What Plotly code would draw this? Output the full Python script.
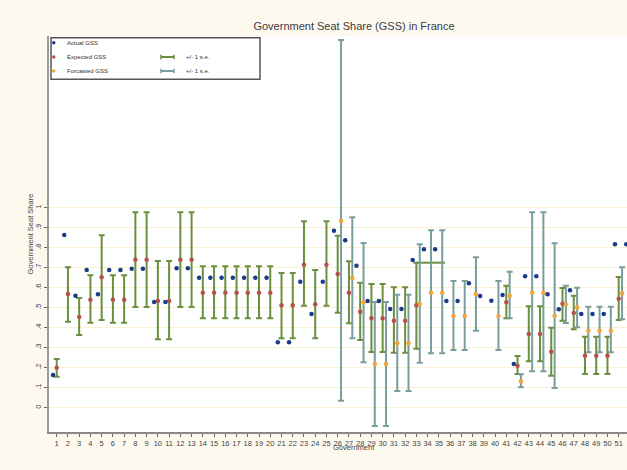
import plotly.graph_objects as go

# ---------------- data ----------------
gov = list(range(1, 53))
tick_labels = [str(g) for g in gov]

actual = [0.163, 0.863, 0.56, 0.688, 0.567, 0.688, 0.688, 0.695, 0.695, 0.528,
          0.528, 0.697, 0.697, 0.65, 0.65, 0.65, 0.65, 0.65, 0.65, 0.65,
          0.327, 0.327, 0.63, 0.468, 0.63, 0.885, 0.837, 0.71, 0.533, 0.533,
          0.493, 0.493, 0.738, 0.792, 0.792, 0.533, 0.533, 0.622, 0.558, 0.535,
          0.563, 0.218, 0.657, 0.657, 0.567, 0.492, 0.587, 0.468, 0.468, 0.468,
          0.817, 0.817]

N = None
expected = [0.2, 0.568, 0.453, 0.54, 0.652, 0.54, 0.54, 0.74, 0.74, 0.533,
            0.533, 0.74, 0.74, 0.575, 0.575, 0.575, 0.575, 0.575, 0.575, 0.575,
            0.512, 0.512, 0.715, 0.517, 0.715, 0.668, 0.575, 0.48, 0.447, 0.447,
            0.435, 0.435, 0.512, N, N, N, N, N, N, N,
            0.527, 0.21, 0.368, 0.368, 0.28, 0.52, 0.473, 0.26, 0.26, 0.26,
            0.545, N]
expected_hi = [0.243, 0.702, 0.548, 0.662, 0.862, 0.662, 0.662, 0.977, 0.977, 0.733,
               0.733, 0.977, 0.977, 0.707, 0.707, 0.707, 0.707, 0.707, 0.707, 0.707,
               0.673, 0.673, 0.932, 0.688, 0.932, 0.86, 0.732, 0.625, 0.618, 0.618,
               0.602, 0.602, 0.725, N, N, N, N, N, N, N,
               0.61, 0.258, 0.507, 0.507, 0.4, 0.598, 0.56, 0.355, 0.355, 0.355,
               0.653, N]
expected_lo = [0.155, 0.43, 0.363, 0.425, 0.438, 0.425, 0.425, 0.503, 0.503, 0.342,
               0.342, 0.503, 0.503, 0.447, 0.447, 0.447, 0.447, 0.447, 0.447, 0.447,
               0.347, 0.347, 0.51, 0.347, 0.51, 0.475, 0.422, 0.338, 0.278, 0.278,
               0.275, 0.275, 0.295, N, N, N, N, N, N, N,
               0.447, 0.168, 0.232, 0.232, 0.16, 0.435, 0.392, 0.168, 0.168, 0.168,
               0.438, N]

forecast = [N] * 25 + [0.933, 0.648, 0.527, 0.218, 0.218, 0.322, 0.322, 0.518, 0.575, 0.575,
                       0.458, 0.458, 0.568, N, 0.458, 0.56, 0.132, 0.575, 0.575, 0.46,
                       0.517, 0.502, 0.385, 0.385, 0.385, 0.572, N]
forecast_hi = [N] * 25 + [1.838, 0.952, 0.823, 0.528, 0.528, 0.565, 0.565, 0.817, 0.887, 0.887,
                          0.633, 0.633, 0.752, N, 0.633, 0.68, 0.167, 0.977, 0.977, 0.822,
                          0.61, 0.6, 0.505, 0.505, 0.505, 0.702, N]
forecast_lo = [N] * 25 + [0.035, 0.347, 0.227, -0.092, -0.092, 0.083, 0.083, 0.225, 0.272, 0.272,
                          0.288, 0.288, 0.385, N, 0.288, 0.447, 0.102, 0.182, 0.182, 0.098,
                          0.423, 0.402, 0.277, 0.277, 0.277, 0.442, N]

# stray wide cap drawn in the original at government 33
cap_gov = [33, 35.55]

y_ticks = [0, .1, .2, .3, .4, .5, .6, .7, .8, .9, 1]
y_tick_labels = ["0", ".1", ".2", ".3", ".4", ".5", ".6", ".7", ".8", ".9", "1"]

# ---------------- styles ----------------
C_ACT = "#1b3a8a"
C_EXP = "#b8504a"
C_FC = "#f2a33a"
C_GREEN = "#6a8f3e"
C_TEAL = "#7a9d9d"
BG = "#fdf9ef"
FONT = "Liberation Sans, Arial, sans-serif"

OFF_ACT = -0.33
OFF_FC = 0.3

def pick(xs, *cols):
    keep = [i for i, v in enumerate(cols[0]) if v is not None]
    return [[xs[i] for i in keep]] + [[c[i] for i in keep] for c in cols]

fig = go.Figure()

# expected + green error bars
gx, ge, gh, gl = pick(gov, expected, expected_hi, expected_lo)
fig.add_trace(go.Scatter(
    x=gx, y=ge, mode="markers", name="Expected GSS",
    marker=dict(color=C_EXP, size=4.5),
    error_y=dict(type="data", symmetric=False,
                 array=[h - e for h, e in zip(gh, ge)],
                 arrayminus=[e - l for e, l in zip(ge, gl)],
                 color=C_GREEN, thickness=2, width=3),
))

# stray cap
i33 = gov.index(33)
fig.add_trace(go.Scatter(
    x=cap_gov, y=[expected_hi[i33]] * len(cap_gov), mode="lines",
    line=dict(color=C_GREEN, width=2), hoverinfo="skip",
))

# forecast + teal error bars
fx, ff, fh, fl = pick(gov, forecast, forecast_hi, forecast_lo)
fig.add_trace(go.Scatter(
    x=[g + OFF_FC for g in fx], y=ff, mode="markers", name="Forcasted GSS",
    marker=dict(color=C_FC, size=4.5),
    error_y=dict(type="data", symmetric=False,
                 array=[h - f for h, f in zip(fh, ff)],
                 arrayminus=[f - l for f, l in zip(ff, fl)],
                 color=C_TEAL, thickness=2, width=3),
))

# actual
fig.add_trace(go.Scatter(
    x=[g + OFF_ACT for g in gov], y=actual, mode="markers", name="Actual GSS",
    marker=dict(color=C_ACT, size=4.5),
))

# ---------------- layout ----------------
W, H = 627, 470
PL, PR, PT, PB = 49, 627, 36, 432
X_LO = 1 - (56.7 - PL) / 11.24
X_HI = 1 + (PR - 56.7) / 11.24
Y_LO = (407.7 - PB) / 200
Y_HI = (407.7 - PT) / 200

def xp(px):
    return (px - PL) / (PR - PL)

def yp(py):
    return (PB - py) / (PB - PT)

fig.update_layout(
    width=W, height=H,
    margin=dict(l=PL, r=W - PR, t=PT, b=H - PB, pad=0),
    paper_bgcolor=BG, plot_bgcolor="white",
    showlegend=False,
    font=dict(family=FONT, color="#444", size=8),
    title=dict(text="Government Seat Share (GSS) in France",
               x=xp(354), xref="paper", xanchor="center",
               y=1 - 26.5 / H, yref="container", yanchor="middle",
               font=dict(family=FONT, size=11, color="#3a3a44")),
    xaxis=dict(range=[X_LO, X_HI], tickvals=gov, ticktext=tick_labels,
               tickangle=0, tickfont=dict(size=7.5, color="#444"),
               ticks="outside", ticklen=3, tickcolor="#666", tickwidth=1,
               showline=True, linecolor="#8a8a8a", linewidth=2,
               showgrid=False, zeroline=False),
    yaxis=dict(range=[Y_LO, Y_HI], tickvals=y_ticks, ticktext=y_tick_labels,
               tickangle=-90, tickfont=dict(size=7.5, color="#444"),
               ticks="outside", ticklen=3, tickcolor="#666", tickwidth=1,
               showline=True, linecolor="#9a9a9a", linewidth=2,
               showgrid=True, gridcolor="#fbf0d4", gridwidth=1,
               zeroline=False),
)

# axis titles
fig.add_annotation(text="Government", xref="paper", yref="paper",
                   x=xp(354), y=yp(454), showarrow=False,
                   font=dict(family=FONT, size=7.5, color="#444"))
fig.add_annotation(text="Government Seat Share", xref="paper", yref="paper",
                   x=xp(29.5), y=0.5, textangle=-90, showarrow=False,
                   xanchor="center", yanchor="middle",
                   font=dict(family=FONT, size=7.5, color="#444"))

# ---------------- legend (drawn as a key box) ----------------
shapes = [dict(type="rect", xref="paper", yref="paper",
               x0=xp(51), x1=xp(260), y0=yp(79.3), y1=yp(37.7),
               line=dict(color="#555", width=1.5), fillcolor="white", layer="above")]
rows = [(42.7, C_ACT, "Actual GSS", None),
        (57.0, C_EXP, "Expected GSS", C_GREEN),
        (71.0, C_FC, "Forcasted GSS", C_TEAL)]
for py, col, label, barcol in rows:
    shapes.append(dict(type="circle", xref="paper", yref="paper",
                       x0=xp(52), x1=xp(55.5), y0=yp(py + 1.8), y1=yp(py - 1.8),
                       line=dict(width=0), fillcolor=col, layer="above"))
    fig.add_annotation(text=label, xref="paper", yref="paper", x=xp(65), y=yp(py),
                       xanchor="left", yanchor="middle", showarrow=False,
                       font=dict(family=FONT, size=6, color="#333"))
    if barcol:
        shapes.append(dict(type="line", xref="paper", yref="paper",
                           x0=xp(161), x1=xp(174), y0=yp(py), y1=yp(py),
                           line=dict(color=barcol, width=2), layer="above"))
        for bx in (161, 174):
            shapes.append(dict(type="line", xref="paper", yref="paper",
                               x0=xp(bx), x1=xp(bx), y0=yp(py - 2.2), y1=yp(py + 2.2),
                               line=dict(color=barcol, width=1.5), layer="above"))
        fig.add_annotation(text="+/- 1 s.e.", xref="paper", yref="paper", x=xp(184), y=yp(py),
                           xanchor="left", yanchor="middle", showarrow=False,
                           font=dict(family=FONT, size=6, color="#333"))
fig.update_layout(shapes=shapes)

fig.write_html("out.html",
               config={"displayModeBar": False},
               post_script="document.body.style.margin='0';document.body.style.overflow='hidden';")
